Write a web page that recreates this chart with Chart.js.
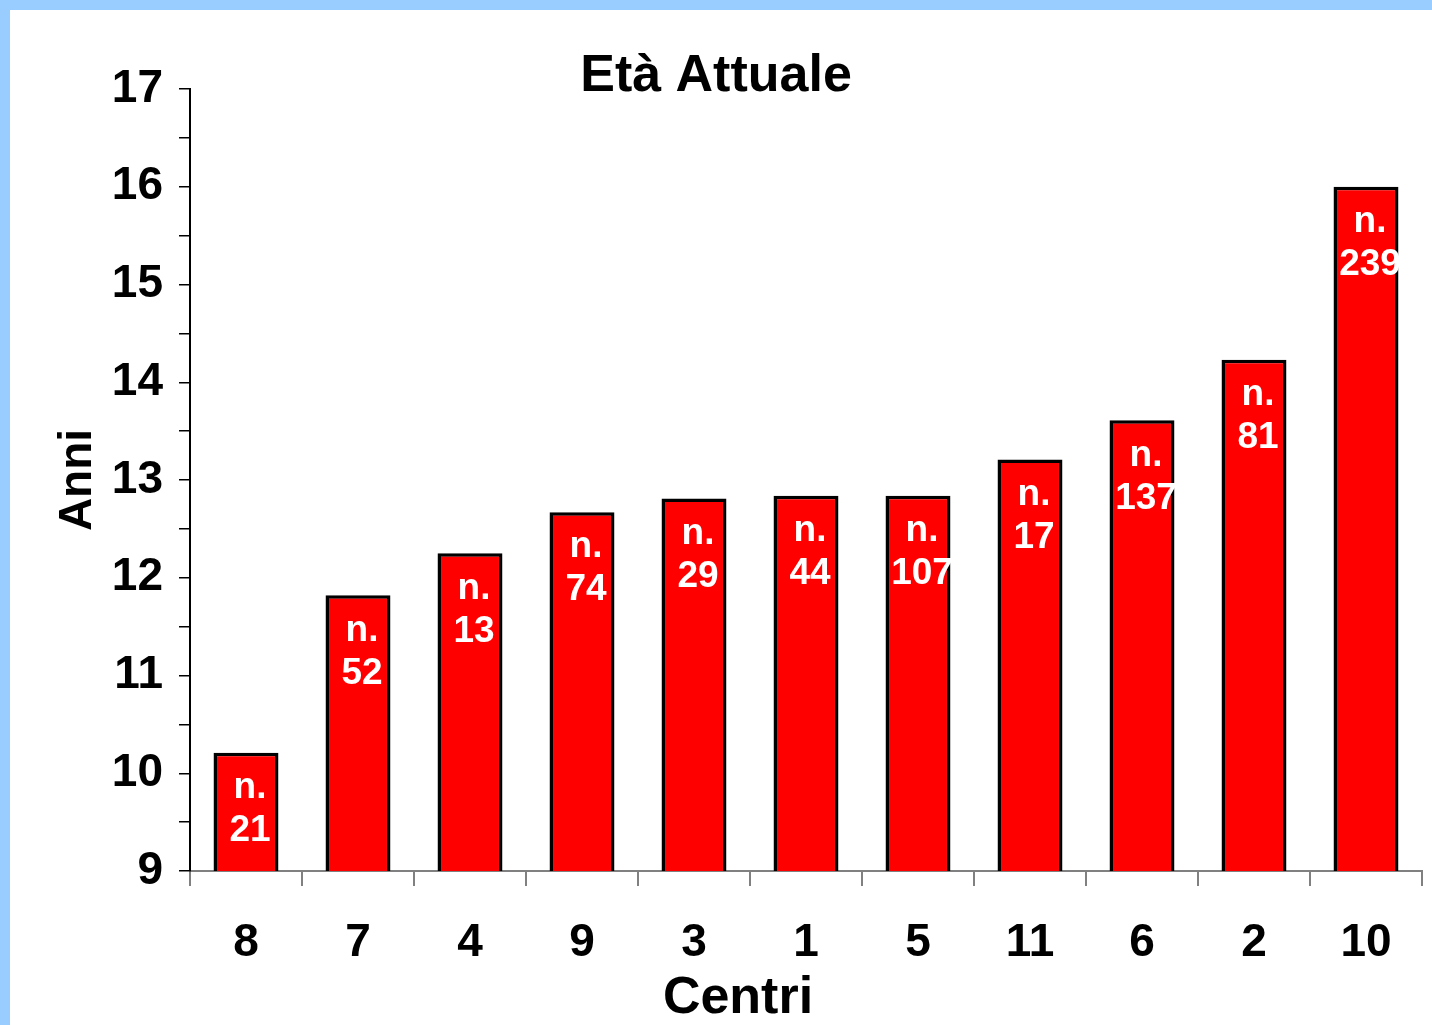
<!DOCTYPE html>
<html>
<head>
<meta charset="utf-8">
<script src="https://cdn.jsdelivr.net/npm/chart.js@4/dist/chart.umd.min.js"></script>
<style>
  html, body { margin: 0; padding: 0; background: #99ccff; width: 1432px; height: 1025px; overflow: hidden; }
  #wrap { position: absolute; left: 10px; top: 10px; width: 1422px; height: 1015px; background: #fff; }
</style>
</head>
<body>
<div id="wrap"><canvas id="chart" width="1422" height="1015"></canvas></div>
<script>
const centri = ["8", "7", "4", "9", "3", "1", "5", "11", "6", "2", "10"];
const etaMedia = [10.21, 11.82, 12.25, 12.67, 12.81, 12.84, 12.84, 13.21, 13.61, 14.23, 16.0];
const numPazienti = [21, 52, 13, 74, 29, 44, 107, 17, 137, 81, 239];

const sans = "'Liberation Sans', Arial, sans-serif";

// labels "n." + count inside every bar, plus the x axis title
const barLabels = {
  id: "barLabels",
  afterDatasetsDraw(chart) {
    const ctx = chart.ctx;
    const meta = chart.getDatasetMeta(0);
    ctx.save();
    ctx.fillStyle = "#fff";
    ctx.font = "bold 37px " + sans;
    ctx.textAlign = "center";
    ctx.textBaseline = "middle";
    meta.data.forEach((bar, i) => {
      ctx.fillText("n.", bar.x + 4, bar.y + 35);
      ctx.fillText(String(numPazienti[i]), bar.x + 4, bar.y + 78);
    });
    ctx.fillStyle = "#000";
    ctx.font = "bold 52px " + sans;
    ctx.fillText("Centri", 728, 989);
    ctx.restore();
  }
};

new Chart(document.getElementById("chart"), {
  type: "bar",
  data: {
    labels: centri,
    datasets: [{
      data: etaMedia,
      backgroundColor: "#ff0000",
      borderColor: "#000",
      borderWidth: 3.5,
      borderSkipped: false,
      categoryPercentage: 1,
      barPercentage: 0.58
    }]
  },
  plugins: [barLabels],
  options: {
    responsive: false,
    animation: false,
    layout: { padding: { top: 0, right: 10, left: 0, bottom: 0 } },
    plugins: {
      legend: { display: false },
      tooltip: { enabled: false },
      title: {
        display: true,
        text: "Età Attuale",
        color: "#000",
        font: { family: sans, size: 52, weight: "bold", lineHeight: 1 },
        padding: { top: 41, bottom: -14 }
      }
    },
    scales: {
      x: {
        grid: { offset: true, drawOnChartArea: false, tickLength: 15, color: "#808080", lineWidth: 2 },
        border: { color: "#808080", width: 2 },
        ticks: { color: "#000", padding: 30, font: { family: sans, size: 46, weight: "bold" }, maxRotation: 0 },
        afterFit(s) { s.height = 154; s.paddingLeft = 0; s.paddingRight = 0; }
      },
      y: {
        min: 9,
        max: 17,
        ticks: {
          stepSize: 0.5,
          autoSkip: false,
          color: "#000",
          padding: 16,
          font: { family: sans, size: 46, weight: "bold" },
          callback: (v) => Number.isInteger(v) ? v : ""
        },
        grid: { drawOnChartArea: false, tickLength: 11, color: "#000", lineWidth: 1.5 },
        border: { color: "#000", width: 2 },
        title: {
          display: true,
          text: "Anni",
          color: "#000",
          font: { family: sans, size: 46, weight: "bold", lineHeight: 1 },
          padding: { top: 45, bottom: 0 }
        },
        afterFit(s) { s.width = 180; s.paddingTop = 0; s.paddingBottom = 0; }
      }
    }
  }
});
</script>
</body>
</html>
